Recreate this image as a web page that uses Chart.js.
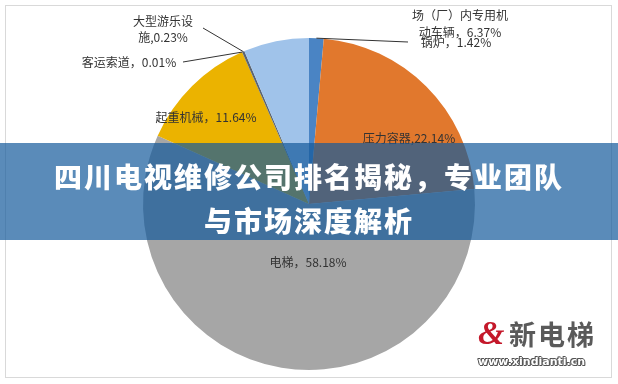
<!DOCTYPE html>
<html>
<head>
<meta charset="utf-8">
<script src="https://cdn.jsdelivr.net/npm/chart.js@4.4.1/dist/chart.umd.min.js"></script>
<style>
  html,body{margin:0;padding:0;background:#fff;}
  #wrap{position:relative;width:618px;height:384px;overflow:hidden;background:#fff;}
  #frame{position:absolute;left:5px;top:5px;width:607px;height:373px;border:1px solid #d9d9d9;box-sizing:border-box;}
  canvas{position:absolute;left:0;top:0;}
  #banner{position:absolute;left:0;top:143px;width:618px;height:97px;background:rgba(20,90,155,0.70);
    color:#fff;font-family:"Noto Sans CJK SC","Noto Sans",sans-serif;font-weight:900;font-size:28px;
    text-align:center;line-height:44px;padding-top:11px;box-sizing:border-box;letter-spacing:2px;}
  #logo{position:absolute;left:476px;top:318px;width:132px;height:56px;font-family:"Noto Sans CJK SC",sans-serif;}
  #logoE{position:absolute;left:2px;top:-4px;font:italic bold 34px "Liberation Serif",serif;color:#c4182a;}
  #logoT{position:absolute;left:33px;top:-1px;font-size:27px;line-height:34px;color:#5a5a5a;font-weight:700;
    text-shadow:1px 1px 0 #fff,-1px -1px 0 #fff,1px -1px 0 #fff,-1px 1px 0 #fff;letter-spacing:2px;}
  #logoU{position:absolute;left:2px;top:37px;font:bold 11px "DejaVu Sans",sans-serif;color:#fff;letter-spacing:0px;
    text-shadow:1px 0 0 #555,-1px 0 0 #555,0 1px 0 #555,0 -1px 0 #555,1px 1px 0 #555,-1px -1px 0 #555;}
</style>
</head>
<body>
<div id="wrap">
  <div id="frame"></div>
  <canvas id="c" width="618" height="384"></canvas>
  <div id="banner">四川电视维修公司排名揭秘，专业团队<br>与市场深度解析</div>
  <div id="logo"><span id="logoE">&amp;</span><span id="logoT">新电梯</span><span id="logoU">www.xindianti.cn</span></div>
</div>
<script>
// ---- data ----
const categories = ["锅炉", "压力容器", "电梯", "起重机械", "客运索道", "大型游乐设施", "场（厂）内专用机动车辆"];
const shares = [1.42, 22.14, 58.18, 11.64, 0.01, 0.23, 6.37];
const labelTexts = [
  ["锅炉，1.42%"],
  ["压力容器,22.14%"],
  ["电梯，58.18%"],
  ["起重机械，11.64%"],
  ["客运索道，0.01%"],
  ["大型游乐设", "施,0.23%"],
  ["场（厂）内专用机", "动车辆，6.37%"]
];

// ---- style / layout ----
const colors = ["#4a84c4", "#e1782d", "#a6a6a6", "#ebb300", "#333333", "#5a6470", "#a0c3ea"];
// label anchor (center of first line) and optional leader end point
const labelLayout = [
  {x: 456, y: 42, line: [408, 42]},
  {x: 409, y: 138},
  {x: 308, y: 262},
  {x: 206, y: 117},
  {x: 129, y: 62, line: [183, 62]},
  {x: 163, y: 21, lh: 16, line: [203, 28]},
  {x: 460, y: 15, lh: 17}
];

const labelPlugin = {
  id: 'pieLabels',
  afterDraw(chart) {
    const ctx = chart.ctx;
    const meta = chart.getDatasetMeta(0);
    ctx.save();
    ctx.font = '12px "Noto Sans CJK SC", sans-serif';
    ctx.fillStyle = '#333';
    ctx.textAlign = 'center';
    ctx.textBaseline = 'middle';
    meta.data.forEach((arc, i) => {
      const L = labelLayout[i];
      const lines = labelTexts[i];
      lines.forEach((t, k) => ctx.fillText(t, L.x, L.y + k * (L.lh || 16)));
      if (L.line) {
        const p = arc.getProps(['x', 'y', 'startAngle', 'endAngle', 'outerRadius'], true);
        const mid = (p.startAngle + p.endAngle) / 2;
        const sx = p.x + Math.cos(mid) * p.outerRadius;
        const sy = p.y + Math.sin(mid) * p.outerRadius;
        ctx.strokeStyle = '#333';
        ctx.lineWidth = 1;
        ctx.beginPath();
        ctx.moveTo(L.line[0], L.line[1]);
        ctx.lineTo(sx, sy);
        ctx.stroke();
      }
    });
    ctx.restore();
  }
};

new Chart(document.getElementById('c'), {
  type: 'pie',
  data: {
    labels: categories,
    datasets: [{
      data: shares,
      backgroundColor: colors,
      borderWidth: 0
    }]
  },
  options: {
    responsive: false,
    animation: false,
    devicePixelRatio: 1,
    layout: {padding: {top: 38, bottom: 14, left: 0, right: 0}},
    plugins: {legend: {display: false}, tooltip: {enabled: false}}
  },
  plugins: [labelPlugin]
});
</script>
</body>
</html>
